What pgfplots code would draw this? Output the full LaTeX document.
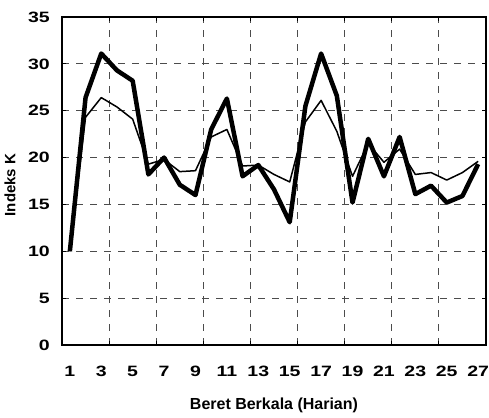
\documentclass[border=0pt]{standalone}
\usepackage{fontspec}
\setmainfont{Liberation Sans}
\newfontfamily\widefont[FakeStretch=1.3]{Liberation Sans}
\usepackage{pgfplots}
\pgfplotsset{compat=1.18}
\begin{document}
\begin{tikzpicture}
\begin{axis}[
  name=ax,
  scale only axis, width=424pt, height=328pt,
  xmin=0.5, xmax=27.5, ymin=0, ymax=35,
  xtick={1,3,5,7,9,11,13,15,17,19,21,23,25,27},
  major x tick style={draw=none},
  minor xtick={3.5,6.5,9.5,12.5,15.5,18.5,21.5,24.5},
  xminorgrids=true, xmajorgrids=false,
  ytick={0,5,10,15,20,25,30,35}, ymajorgrids=true,
  grid style={black!70, line width=0.8pt, dash pattern=on 7pt off 7pt},
  minor grid style={black!70, line width=0.8pt, dash pattern=on 7pt off 7pt},
  tick align=inside, major tick length=4pt, minor tick length=4pt,
  tick style={black, line width=0.8pt},
  axis line style={line width=2pt},
  /pgf/number format/assume math mode=true,
  tick label style={font=\widefont\bfseries\fontsize{15}{15}\selectfont, inner sep=0pt},
  xticklabel style={anchor=center, yshift=-26pt},
  yticklabel style={anchor=east, xshift=-12pt},
  xlabel={Beret Berkala (Harian)},
  ylabel={Indeks K},
  xlabel style={font=\bfseries\fontsize{16}{16}\selectfont, at={(axis description cs:0.5,0)}, anchor=center, yshift=-60pt},
  ylabel style={font=\bfseries\fontsize{15}{15}\selectfont, at={(axis description cs:0,0.5)}, anchor=center, yshift=52pt, xshift=-4pt},
]
\addplot[black, line width=1.5pt, line join=round] coordinates {
(1,10) (2,24.3) (3,26.4) (4,25.4) (5,24.1) (6,19.3) (7,19.8) (8,18.5) (9,18.6)
(10,22.2) (11,23.0) (12,19.1) (13,19.2) (14,18.2) (15,17.4) (16,23.8) (17,26.1)
(18,22.8) (19,18.0) (20,21.5) (21,19.5) (22,20.9) (23,18.2) (24,18.4) (25,17.6)
(26,18.4) (27,19.6)};
\addplot[black, line width=4.5pt, line join=round] coordinates {
(1,10) (2,26.4) (3,31.1) (4,29.3) (5,28.2) (6,18.2) (7,20.0) (8,17.1) (9,16.0)
(10,23.0) (11,26.3) (12,18.0) (13,19.2) (14,16.6) (15,13.1) (16,25.5) (17,31.1)
(18,26.6) (19,15.2) (20,22.0) (21,18.0) (22,22.2) (23,16.1) (24,17.0) (25,15.2)
(26,15.9) (27,19.3)};
\end{axis}
\path ([xshift=-62pt,yshift=-72pt]ax.south west) rectangle ([xshift=3pt,yshift=17pt]ax.north east);
\end{tikzpicture}
\end{document}
